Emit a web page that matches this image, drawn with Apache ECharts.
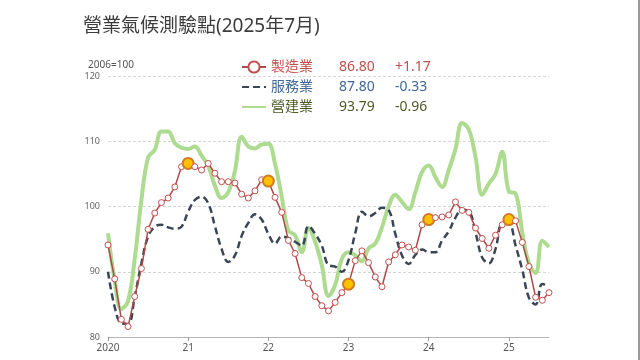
<!DOCTYPE html>
<html>
<head>
<meta charset="utf-8">
<script src="https://cdn.jsdelivr.net/npm/echarts@6/dist/echarts.min.js"></script>
<style>
html,body{margin:0;padding:0;background:#fff;}
#chart{width:640px;height:360px;}
</style>
</head>
<body>
<div id="chart"></div>
<script>
// ---- data ----
const seriesNames = ['製造業', '服務業', '營建業'];
const legendValues = ['86.80', '87.80', '93.79'];
const legendChanges = ['+1.17', '-0.33', '-0.96'];
const yearTickLabels = ['2020', '21', '22', '23', '24', '25'];
const highlightMonths = ['2021-01', '2022-01', '2023-01', '2024-01', '2025-01'];

const manufacturing = [
  94.1, 88.9, 82.7, 81.6, 86.2, 90.5, 96.5, 99.0, 100.6, 101.3, 103.0, 106.1,
  106.6, 106.1, 105.6, 106.6, 105.1, 103.8, 103.8, 103.6, 101.9, 101.3, 102.4, 104.1,
  103.9, 101.4, 99.1, 94.8, 92.8, 89.1, 88.2, 86.2, 84.8, 84.0, 85.3, 86.8,
  88.1, 91.7, 93.2, 91.4, 89.2, 87.7, 91.5, 92.6, 94.1, 93.8, 93.3, 97.2,
  98.0, 98.3, 98.4, 98.7, 100.7, 99.4, 99.1, 96.7, 95.1, 93.6, 95.6, 97.2,
  98.0, 97.8, 94.5, 90.8, 86.1, 85.63, 86.80
];
const services = [
  90.0, 84.6, 82.1, 82.0, 86.2, 91.3, 95.4, 96.9, 97.2, 96.8, 96.6, 96.9,
  99.2, 101.0, 101.5, 100.5, 97.0, 93.5, 91.5, 92.5, 95.5, 97.5, 98.8, 98.0,
  95.8, 94.3, 95.4, 95.2, 94.6, 94.0, 97.0, 95.8, 94.0, 91.0, 90.8, 90.0,
  91.8, 95.9, 99.2, 98.5, 99.0, 99.8, 99.5, 95.8, 92.5, 91.2, 92.6, 93.4,
  93.0, 93.0, 94.8, 96.2, 98.3, 99.5, 99.3, 96.0, 92.2, 91.3, 93.5, 97.3,
  97.3, 94.0, 90.3, 86.0, 85.0, 88.13, 87.80
];
const construction = [
  95.9, 88.7, 84.3, 85.5, 92.0, 101.0, 107.5, 108.7, 111.5, 111.5, 109.7, 109.0,
  108.8, 109.2, 107.8, 106.2, 103.2, 101.3, 102.2, 105.5, 110.7, 109.2, 108.9, 109.5,
  109.6, 106.5, 101.5, 96.3, 95.6, 93.0, 96.7, 94.6, 91.0, 86.3, 88.0, 92.0,
  93.0, 92.5, 91.6, 93.6, 94.3, 96.8, 100.0, 101.8, 100.7, 99.6, 102.2, 105.3,
  106.3, 104.5, 103.0, 105.6, 108.8, 112.8, 111.8, 107.6, 101.8, 103.5, 105.0, 108.4,
  102.3, 102.0, 96.0, 91.3, 89.8, 94.75, 93.79
];

// month categories 2020-01 .. 2025-07
const months = [];
for (let y = 2020; y <= 2025; y++) {
  for (let m = 1; m <= 12; m++) {
    if (y === 2025 && m > 7) break;
    months.push(y + '-' + String(m).padStart(2, '0'));
  }
}

const colors = {
  mfgLine: '#ad4a4a', mfgText: '#c0504d',
  svcLine: '#3a4656', svcText: '#3f6797',
  conLine: '#addb90', conText: '#4d5a26'
};

const font = "'Noto Sans', 'Noto Sans CJK TC', sans-serif";

const mfgData = manufacturing.map((v, i) =>
  highlightMonths.includes(months[i])
    ? { value: v, symbolSize: 11, itemStyle: { color: '#ffc000', borderColor: '#d27b1f', borderWidth: 2 } }
    : v
);

const isJan = (i) => i % 12 === 0;

const rich = {};
const textCols = [colors.mfgText, colors.svcText, colors.conText];
textCols.forEach((c, k) => {
  rich['n' + k] = { color: c, fontSize: 14, width: 68, fontFamily: font, lineHeight: 16 };
  rich['v' + k] = { color: c, fontSize: 14, width: 56, fontFamily: font, lineHeight: 16 };
  rich['c' + k] = { color: c, fontSize: 14, fontFamily: font, lineHeight: 16 };
});

const chart = echarts.init(document.getElementById('chart'), null, { renderer: 'canvas' });
chart.setOption({
  animation: false,
  backgroundColor: '#fff',
  title: {
    text: '營業氣候測驗點(2025年7月)',
    left: 78, top: 12,
    textStyle: { fontSize: 19, fontWeight: 'normal', color: '#3c3c3c', fontFamily: font }
  },
  legend: {
    orient: 'vertical',
    left: 236, top: 55,
    itemWidth: 24, itemHeight: 14, itemGap: 6,
    data: [
      { name: '製造業' },
      { name: '服務業', itemStyle: { opacity: 0 } },
      { name: '營建業', itemStyle: { opacity: 0 } }
    ],
    formatter: (name) => {
      const k = seriesNames.indexOf(name);
      return '{n' + k + '|' + name + '}{v' + k + '|' + legendValues[k] + '}{c' + k + '|' + legendChanges[k] + '}';
    },
    textStyle: { rich: rich, fontFamily: font }
  },
  grid: { left: 108, right: 91, top: 76, bottom: 23 },
  xAxis: {
    type: 'category',
    boundaryGap: false,
    data: months,
    axisLine: { lineStyle: { color: '#b5b5b5' } },
    axisTick: { interval: (i) => isJan(i), length: 4, lineStyle: { color: '#9a9a9a' } },
    axisLabel: {
      interval: (i) => isJan(i),
      formatter: (v) => yearTickLabels[parseInt(v.slice(0, 4), 10) - 2020],
      fontSize: 10, color: '#555', margin: 6, fontFamily: font
    },
    splitLine: { show: false }
  },
  yAxis: {
    type: 'value',
    min: 80, max: 120, interval: 10,
    name: '2006=100',
    nameLocation: 'end',
    nameGap: 6,
    nameTextStyle: { fontSize: 10, color: '#555', align: 'center', padding: [0, 0, 0, 6], fontFamily: font },
    axisLine: { show: false },
    axisTick: { show: false },
    axisLabel: { fontSize: 9, color: '#666', margin: 8, fontFamily: font },
    splitLine: { lineStyle: { color: '#d6d6d6', type: [3, 2], width: 1 } }
  },
  series: [
    {
      name: '營建業', type: 'line', data: construction,
      smooth: 0.4, showSymbol: false, symbol: 'none',
      lineStyle: { color: colors.conLine, width: 4 },
      itemStyle: { color: colors.conLine },
      z: 1
    },
    {
      name: '服務業', type: 'line', data: services,
      smooth: 0.4, showSymbol: false, symbol: 'none',
      lineStyle: { color: colors.svcLine, width: 2.5, type: [7, 4] },
      itemStyle: { color: colors.svcLine },
      z: 2
    },
    {
      name: '製造業', type: 'line', data: mfgData,
      symbol: 'circle', symbolSize: 6, showSymbol: true, showAllSymbol: true,
      lineStyle: { color: colors.mfgLine, width: 1.5 },
      itemStyle: { color: '#ffffff', borderColor: colors.mfgText, borderWidth: 1 },
      z: 3
    }
  ],
  graphic: [
    { type: 'line', shape: { x1: 639, y1: 0, x2: 639, y2: 360 }, style: { stroke: '#777', lineWidth: 1.5 } }
  ]
});
</script>
</body>
</html>
